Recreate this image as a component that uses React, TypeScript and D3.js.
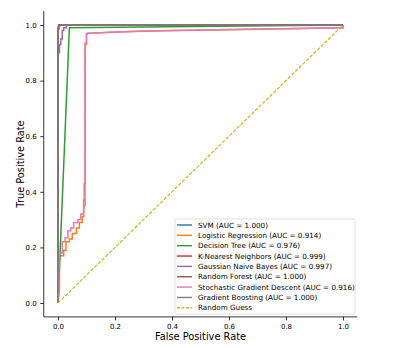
import React, { useEffect, useRef } from "react";
import * as d3 from "d3";

// ROC curves, [fpr, tpr]
const svm = [[0, 0], [0, 0.99], [0.005, 1], [1, 1]];
const logReg = [
  [0, 0], [0.005, 0.05], [0.005, 0.17], [0.02, 0.17], [0.02, 0.19], [0.028, 0.19],
  [0.028, 0.22], [0.04, 0.22], [0.04, 0.23], [0.05, 0.23], [0.05, 0.25], [0.065, 0.25],
  [0.065, 0.27], [0.075, 0.27], [0.075, 0.29], [0.085, 0.29], [0.085, 0.31], [0.09, 0.31],
  [0.09, 0.37], [0.092, 0.37], [0.092, 0.43], [0.095, 0.43], [0.095, 0.93], [0.1, 0.93],
  [0.1, 0.965], [0.105, 0.97], [0.3, 0.978], [0.6, 0.983], [1, 0.99], [1, 1]
];
const decTree = [[0, 0], [0.04, 0.99], [1, 1]];
const knn = [[0, 0], [0, 0.985], [0.003, 0.985], [0.003, 1], [1, 1]];
const gnb = [
  [0, 0], [0, 0.9], [0.005, 0.9], [0.005, 0.93], [0.01, 0.93], [0.01, 0.95], [0.015, 0.95],
  [0.015, 0.98], [0.02, 0.98], [0.02, 0.99], [0.03, 0.99], [0.03, 1], [1, 1]
];
const randForest = [[0, 0], [0, 0.99], [0.004, 1], [1, 1]];
const sgd = [
  [0, 0], [0.003, 0.05], [0.003, 0.18], [0.015, 0.18], [0.015, 0.22], [0.025, 0.22],
  [0.025, 0.235], [0.035, 0.235], [0.035, 0.26], [0.045, 0.26], [0.045, 0.27], [0.055, 0.27],
  [0.055, 0.29], [0.07, 0.29], [0.07, 0.3], [0.08, 0.3], [0.08, 0.32], [0.09, 0.32],
  [0.09, 0.35], [0.095, 0.35], [0.095, 0.935], [0.1, 0.935], [0.1, 0.97], [0.2, 0.975],
  [0.4, 0.98], [0.6, 0.984], [1, 0.99], [1, 1]
];
const gradBoost = [[0, 0], [0, 0.99], [0.01, 1], [1, 1]];
const guess = [[0, 0], [1, 1]];

const names = [
  "SVM (AUC = 1.000)",
  "Logistic Regression (AUC = 0.914)",
  "Decision Tree (AUC = 0.976)",
  "K-Nearest Neighbors (AUC = 0.999)",
  "Gaussian Naive Bayes (AUC = 0.997)",
  "Random Forest (AUC = 1.000)",
  "Stochastic Gradient Descent (AUC = 0.916)",
  "Gradient Boosting (AUC = 1.000)",
  "Random Guess"
];
const curves = [svm, logReg, decTree, knn, gnb, randForest, sgd, gradBoost, guess];
const colors = ["#1f77b4", "#ff7f0e", "#2ca02c", "#d62728", "#9467bd", "#8c564b", "#e377c2", "#7f7f7f", "#bcbd22"];
const ticks = [0, 0.2, 0.4, 0.6, 0.8, 1.0];

export default function App() {
  const ref = useRef<SVGSVGElement>(null);

  useEffect(() => {
    const svg = d3.select(ref.current);
    svg.selectAll("*").remove();
    const font = "DejaVu Sans, sans-serif";

    const x = d3.scaleLinear().domain([-0.05, 1.05]).range([43.75, 357.25]);
    const y = d3.scaleLinear().domain([-0.05, 1.05]).range([316.9, 11.1]);

    const line = d3.line<number[]>().x(d => x(d[0])).y(d => y(d[1]));

    const g = svg.append("g");
    curves.forEach((c, i) => {
      g.append("path")
        .attr("d", line(c))
        .attr("fill", "none")
        .attr("stroke", colors[i])
        .attr("stroke-width", i === 8 ? 1.2 : 1.5)
        .attr("stroke-dasharray", i === 8 ? "3.5,1.6" : null);
    });

    // axes: left and bottom spines only
    const xAxis = svg.append("g")
      .attr("transform", `translate(0,${y(-0.05)})`)
      .call(d3.axisBottom(x).tickValues(ticks).tickFormat(d3.format(".1f")).tickSize(3.5).tickPadding(3.5));
    const yAxis = svg.append("g")
      .attr("transform", `translate(${x(-0.05)},0)`)
      .call(d3.axisLeft(y).tickValues(ticks).tickFormat(d3.format(".1f")).tickSize(3.5).tickPadding(3.5));
    [xAxis, yAxis].forEach(a => {
      a.selectAll("path").attr("stroke", "#000").attr("stroke-width", 0.8);
      a.selectAll("line").attr("stroke", "#000").attr("stroke-width", 0.8);
      a.selectAll("text").attr("font-family", font).attr("font-size", 7).attr("fill", "#000");
    });
    xAxis.select("path").attr("d", `M${x(-0.05)},0H${x(1.05)}`);
    yAxis.select("path").attr("d", `M0,${y(-0.05)}V${y(1.05)}`);

    svg.append("text")
      .attr("x", x(0.5)).attr("y", 340)
      .attr("text-anchor", "middle")
      .attr("font-family", font).attr("font-size", 9.8)
      .text("False Positive Rate");
    svg.append("text")
      .attr("transform", `translate(24,${y(0.5)}) rotate(-90)`)
      .attr("text-anchor", "middle")
      .attr("font-family", font).attr("font-size", 9.8)
      .text("True Positive Rate");

    // legend
    const lg = svg.append("g").attr("transform", "translate(175,219)");
    lg.append("rect")
      .attr("width", 180).attr("height", 95)
      .attr("rx", 2)
      .attr("fill", "#fff").attr("fill-opacity", 0.8)
      .attr("stroke", "#d9d9d9").attr("stroke-width", 0.8);
    names.forEach((n, i) => {
      const yy = 6 + i * 10.35;
      lg.append("line")
        .attr("x1", 2).attr("x2", 17).attr("y1", yy).attr("y2", yy)
        .attr("stroke", colors[i]).attr("stroke-width", 1.4)
        .attr("stroke-dasharray", i === 8 ? "3,1.5" : null);
      lg.append("text")
        .attr("x", 23).attr("y", yy)
        .attr("dy", "0.35em")
        .attr("font-family", font).attr("font-size", 7.2)
        .text(n);
    });
  }, []);

  return (
    <svg ref={ref} width={399} height={348}
      style={{ position: "absolute", left: 0, top: 0, background: "#fff" }} />
  );
}
